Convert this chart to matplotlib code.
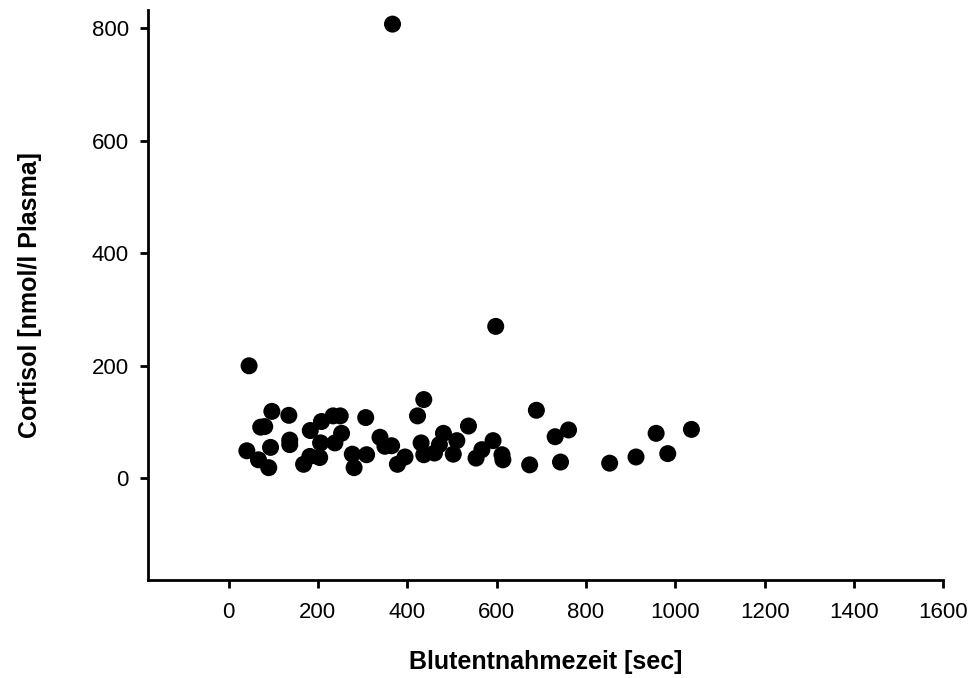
import matplotlib.pyplot as plt

# sampling time [sec] and cortisol [nmol/l plasma]
zeit = [367, 46, 598, 97, 135, 72, 81, 41, 67, 90, 94, 137, 137, 183, 208,
        234, 250, 253, 238, 206, 204, 168, 182, 307, 277, 281, 309, 339, 350,
        365, 378, 395, 437, 423, 431, 437, 461, 481, 472, 511, 503, 537, 554,
        567, 592, 612, 614, 674, 689, 731, 761, 743, 853, 912, 957, 983, 1036]
cortisol = [807, 200, 270, 119, 112, 91, 92, 49, 33, 19, 55, 60, 68, 85, 101,
            111, 111, 80, 63, 63, 37, 25, 39, 108, 43, 19, 42, 73, 57,
            58, 25, 38, 140, 111, 63, 42, 45, 80, 60, 67, 43, 93, 36,
            51, 67, 42, 33, 24, 121, 74, 86, 29, 27, 38, 80, 44, 87]

xticks = [0, 200, 400, 600, 800, 1000, 1200, 1400, 1600]
yticks = [0, 200, 400, 600, 800]

plt.rcParams['font.family'] = ['Liberation Sans', 'DejaVu Sans']

fig = plt.figure(figsize=(9.72, 6.78), dpi=100)
ax = fig.add_axes([0.1526, 0.1445, 0.818, 0.8407])

ax.scatter(zeit, cortisol, s=150, c='black', edgecolors='none', zorder=3)

ax.set_xlim(-179.5, 1600)
ax.set_ylim(-180.6, 832)
ax.set_xticks(xticks)
ax.set_yticks(yticks)

for side in ['top', 'right']:
    ax.spines[side].set_visible(False)
for side in ['left', 'bottom']:
    ax.spines[side].set_linewidth(2)

ax.tick_params(axis='both', direction='out', length=6, width=2, labelsize=16)
ax.tick_params(axis='x', pad=10)
ax.tick_params(axis='y', pad=8)

ax.set_xlabel('Blutentnahmezeit [sec]', fontsize=18, fontweight='bold', labelpad=19)
ax.set_ylabel('Cortisol [nmol/l Plasma]', fontsize=18, fontweight='bold', labelpad=36)

fig.savefig('out.png', dpi=100)
